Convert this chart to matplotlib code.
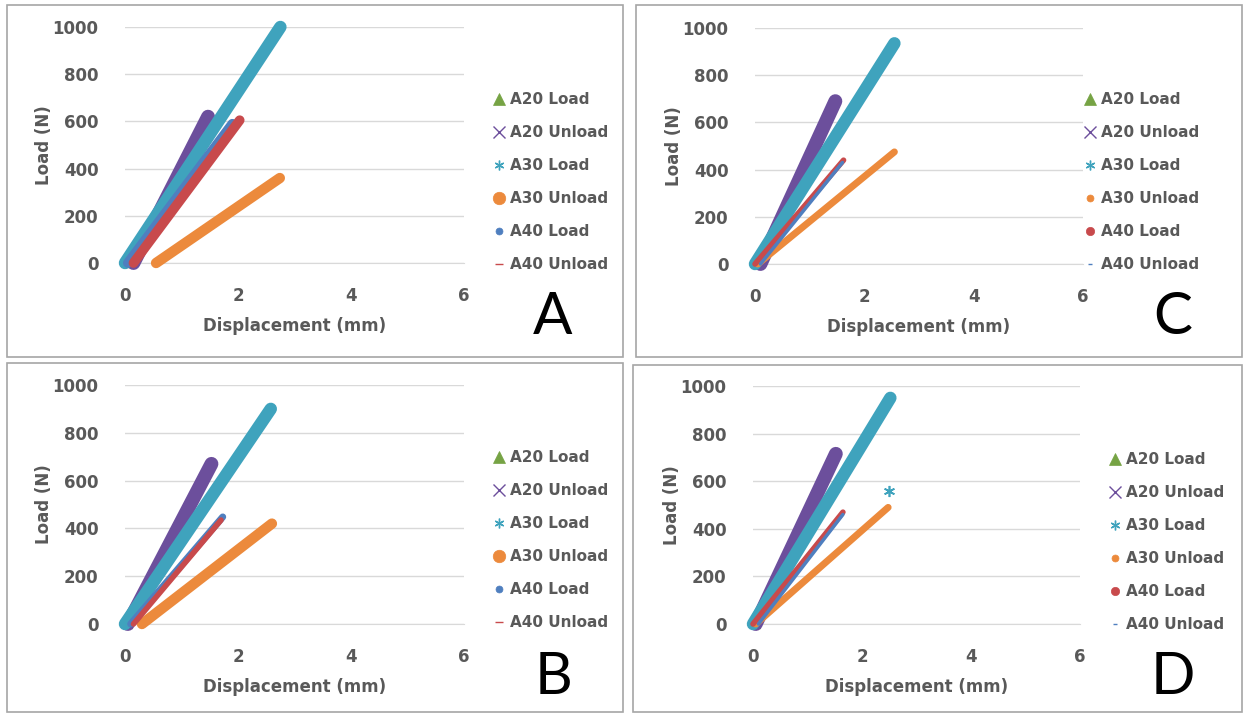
import matplotlib
matplotlib.use("Agg")
import matplotlib.pyplot as plt
from matplotlib.lines import Line2D
from matplotlib.patches import Rectangle

plt.rcParams['font.family'] = ['DejaVu Sans']

# series: start/end points (displacement mm, load N)
series_names = ["A20 Load", "A20 Unload", "A30 Load", "A30 Unload", "A40 Load", "A40 Unload"]

a_x = [[0.05, 1.45], [0.15, 1.47], [0.0, 2.75], [0.55, 2.74], [0.05, 1.9], [0.15, 2.03]]
a_y = [[0, 610], [0, 620], [0, 1000], [0, 360], [0, 590], [0, 605]]

c_x = [[0.05, 1.45], [0.1, 1.47], [0.0, 2.55], [0.05, 2.55], [0.0, 1.62], [0.1, 1.6]]
c_y = [[0, 680], [0, 690], [0, 935], [0, 475], [0, 440], [0, 430]]

b_x = [[0.05, 1.5], [0.05, 1.53], [0.0, 2.58], [0.3, 2.6], [0.1, 1.73], [0.15, 1.7]]
b_y = [[0, 665], [0, 670], [0, 900], [0, 420], [0, 448], [0, 435]]

d_x = [[0.05, 1.5], [0.05, 1.52], [0.0, 2.52], [0.05, 2.48], [0.0, 1.65], [0.1, 1.65]]
d_y = [[0, 710], [0, 715], [0, 950], [0, 490], [0, 470], [0, 460]]
d_extra_x = [2.5]   # stray A30 Load point
d_extra_y = [560]

x_ticks = [0, 2, 4, 6]
y_ticks = [0, 200, 400, 600, 800, 1000]

GREEN = "#76a344"
PURPLE = "#6c4f9c"
TEAL = "#3fa3bd"
ORANGE = "#ec8a3c"
BLUE = "#4f7fbf"
RED = "#c84a4c"
TXT = "#595959"

W, H = 1243, 717
fig = plt.figure(figsize=(W / 100, H / 100), dpi=100)


def fx(px):
    return px / W


def fy(py):
    return 1 - py / H


# panel frames
for (l, t, r, b) in [(7, 5, 623, 357), (636, 5, 1242, 357), (7, 363, 623, 712), (633, 365, 1242, 712)]:
    fig.patches.append(Rectangle((fx(l), fy(b)), fx(r - l), (b - t) / H, transform=fig.transFigure,
                                 fill=False, edgecolor="#a6a6a6", lw=1.2))

panels = [
    # letter, xs, ys, axes box (l, r, t, b), colours, lws, legend marker styles, legend pos, letter pos
    ("A", a_x, a_y, (125, 464, 27, 263),
     [GREEN, PURPLE, TEAL, ORANGE, BLUE, RED], [3, 10, 9, 7.5, 7, 7],
     [("^", 8), ("x", 9), ((6, 2, 0), 7), ("o", 9), ("o", 5), ("_", 6)], (494, 92), (553, 318)),
    ("C", c_x, c_y, (755, 1083, 28, 264),
     [GREEN, PURPLE, TEAL, ORANGE, RED, BLUE], [3, 10, 9, 5, 4, 2.5],
     [("^", 8), ("x", 9), ((6, 2, 0), 7), ("o", 5), ("o", 6), ("_", 3)], (1085, 92), (1173, 318)),
    ("B", b_x, b_y, (125, 464, 385, 624),
     [GREEN, PURPLE, TEAL, ORANGE, BLUE, RED], [3, 10, 9, 7.5, 5, 4],
     [("^", 8), ("x", 9), ((6, 2, 0), 7), ("o", 9), ("o", 5), ("_", 6)], (494, 450), (553, 677)),
    ("D", d_x, d_y, (753, 1080, 386, 624),
     [GREEN, PURPLE, TEAL, ORANGE, RED, BLUE], [3, 10, 9, 5, 4, 2.5],
     [("^", 8), ("x", 9), ((6, 2, 0), 7), ("o", 5), ("o", 6), ("_", 3)], (1110, 452), (1173, 677)),
]

for letter, xs, ys, box, cols, lws, mk, legpos, letpos in panels:
    l, r, t, b = box
    ax = fig.add_axes([fx(l), fy(b), fx(r - l), (b - t) / H])
    for i in range(len(series_names)):
        ax.plot(xs[i], ys[i], color=cols[i], lw=lws[i], solid_capstyle="round",
                zorder=2 + i, clip_on=False)
    # a few A20 Load triangles visible at the origin
    ax.plot(xs[0][:1], ys[0][:1], ls="none", marker="^", ms=6, color=GREEN, zorder=1, clip_on=False)
    if letter == "D":
        ax.plot(d_extra_x, d_extra_y, ls="none", marker=(6, 2, 0), ms=8, mew=1.2, color=TEAL, zorder=10)

    ax.set_xlim(0, 6)
    ax.set_ylim(0, 1000)
    ax.set_xticks(x_ticks)
    ax.set_yticks(y_ticks)
    ax.grid(axis="y", color="#d9d9d9", lw=1)
    ax.set_axisbelow(True)
    for s in ["top", "right", "left"]:
        ax.spines[s].set_visible(False)
    ax.spines["bottom"].set_color("#d9d9d9")
    ax.tick_params(length=0, labelsize=12, labelcolor=TXT)
    ax.tick_params(axis="y", pad=19)
    ax.tick_params(axis="x", pad=17)
    for lab in ax.get_xticklabels() + ax.get_yticklabels():
        lab.set_fontweight("bold")
    ax.set_xlabel("Displacement (mm)", fontsize=12, fontweight="bold", color=TXT, labelpad=9)
    ax.set_ylabel("Load (N)", fontsize=12, fontweight="bold", color=TXT, labelpad=0)
    ax.patch.set_alpha(0)

    handles = []
    for i in range(len(series_names)):
        m, s = mk[i]
        handles.append(Line2D([], [], ls="none", marker=m, ms=s, color=cols[i],
                              mew=1.0 if m in ("x", "_") or isinstance(m, tuple) else 0.5))
    leg = fig.legend(handles, series_names, loc="upper left",
                     bbox_to_anchor=(fx(legpos[0]), fy(legpos[1])), frameon=False,
                     handlelength=0.7, handletextpad=0.35, labelspacing=1.18,
                     prop={"size": 11, "weight": "bold"}, borderaxespad=0, borderpad=0)
    for txt in leg.get_texts():
        txt.set_color(TXT)

    fig.text(fx(letpos[0]), fy(letpos[1]), letter, fontsize=42, ha="center", va="center",
             color="black", family="Lato")

fig.savefig("out.png", dpi=100, facecolor="white")
